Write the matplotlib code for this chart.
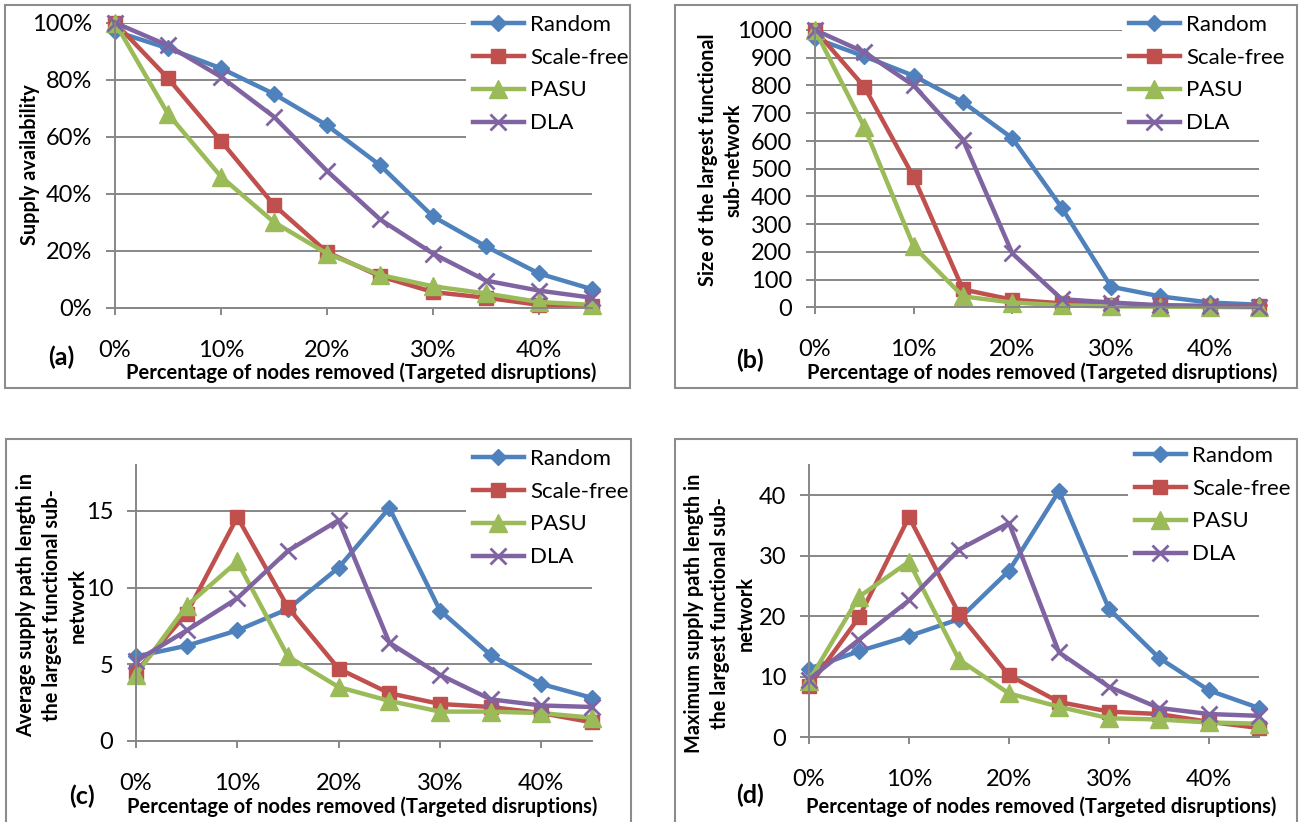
import matplotlib
matplotlib.use('Agg')
import matplotlib.pyplot as plt
from matplotlib.patches import Rectangle
from matplotlib.ticker import FuncFormatter

plt.rcParams['font.family'] = ['Lato', 'DejaVu Sans']

# percentage of nodes removed
removed = [0, 5, 10, 15, 20, 25, 30, 35, 40, 45]
series = ['Random', 'Scale-free', 'PASU', 'DLA']

# (a) supply availability, %
avail_random = [97, 91, 84, 75, 64, 50, 32, 21.5, 12, 6.5]
avail_scale = [100, 80.5, 58.5, 36, 19.5, 11, 5.5, 3.5, 1, 0.5]
avail_pasu = [100, 68, 46, 30, 19, 11.5, 7.5, 5, 2, 1]
avail_dla = [100, 92, 81, 67, 48, 31, 19, 9.5, 6, 3.5]

# (b) size of the largest functional sub-network
size_random = [970, 905, 835, 740, 610, 360, 75, 40, 18, 10]
size_scale = [1000, 795, 470, 65, 28, 15, 10, 8, 5, 5]
size_pasu = [1000, 650, 220, 40, 18, 8, 4, 3, 2, 1]
size_dla = [1000, 920, 800, 605, 195, 30, 18, 8, 5, 3]

# (c) average supply path length
avg_random = [5.5, 6.2, 7.2, 8.6, 11.3, 15.2, 8.5, 5.6, 3.7, 2.8]
avg_scale = [4.5, 8.3, 14.6, 8.7, 4.7, 3.1, 2.4, 2.2, 1.8, 1.2]
avg_pasu = [4.3, 8.8, 11.7, 5.5, 3.5, 2.6, 1.9, 1.9, 1.8, 1.5]
avg_dla = [5.2, 7.2, 9.3, 12.4, 14.4, 6.4, 4.3, 2.7, 2.3, 2.2]

# (d) maximum supply path length
max_random = [11.3, 14.2, 16.7, 19.5, 27.5, 40.7, 21.2, 13.1, 7.7, 4.8]
max_scale = [8.4, 19.8, 36.4, 20.4, 10.2, 5.8, 4.2, 3.8, 2.5, 1.5]
max_pasu = [9.3, 23.2, 29, 12.8, 7.2, 5, 3.1, 2.9, 2.4, 2.2]
max_dla = [9.5, 16.1, 22.6, 31, 35.4, 14, 8.3, 4.8, 3.8, 3.5]

colors = ['#4F81BD', '#C0504D', '#9BBB59', '#8064A2']
markers = [('D', 8), ('s', 10.5), ('^', 12.5), ('x', 11.5)]
grey = '#878787'

W, H = 1302, 822
fig = plt.figure(figsize=(W / 100, H / 100), dpi=100)


def fx(x):
    return x / W


def fy(y):
    return 1 - y / H


def box(l, t, r, b):
    fig.patches.append(Rectangle((fx(l), fy(b)), fx(r) - fx(l), fy(t) - fy(b),
                                 transform=fig.transFigure, fill=False,
                                 edgecolor='#8c8c8c', linewidth=1.5, zorder=5))


def panel(l, r, t, b, data, ymax, yticks, yfmt, leg_xy, letter_xy, title_xy,
          ylabel, ylabel_xy, letter):
    ax = fig.add_axes([fx(l), fy(b), fx(r) - fx(l), fy(t) - fy(b)])
    for vals, name, c, (m, ms) in zip(data, series, colors, markers):
        ax.plot(removed, vals, color=c, lw=3.2, marker=m, markersize=ms,
                markeredgecolor=c, markeredgewidth=2 if m == 'x' else 1,
                label=name, clip_on=False)
    ax.set_xlim(0, 45)
    ax.set_ylim(0, ymax)
    ax.set_xticks([0, 10, 20, 30, 40])
    ax.set_xticklabels(['0%', '10%', '20%', '30%', '40%'])
    ax.set_yticks(yticks)
    ax.yaxis.set_major_formatter(FuncFormatter(yfmt))
    ax.grid(axis='y', color=grey, lw=1.4)
    ax.set_axisbelow(True)
    for s in ['top', 'right']:
        ax.spines[s].set_visible(False)
    for s in ['left', 'bottom']:
        ax.spines[s].set_color(grey)
        ax.spines[s].set_linewidth(1.4)
    ax.tick_params(axis='x', length=5, width=1.4, color=grey, pad=18,
                   labelsize=17)
    ax.tick_params(axis='y', length=6.5, width=1.4, color=grey, pad=10,
                   labelsize=17)
    ax.legend(loc='upper left', bbox_to_anchor=(fx(leg_xy[0]), fy(leg_xy[1])),
              bbox_transform=fig.transFigure, frameon=True, fancybox=False,
              edgecolor='none', facecolor='white', framealpha=1,
              fontsize=16, handlelength=2.3, handletextpad=0.3,
              labelspacing=0.58, borderpad=0.3, borderaxespad=0,
              numpoints=1)
    fig.text(fx(letter_xy[0]), fy(letter_xy[1]), letter, fontsize=18,
             fontweight='bold', ha='center', va='center')
    fig.text(fx(title_xy[0]), fy(title_xy[1]),
             'Percentage of nodes removed (Targeted disruptions)',
             fontsize=14.5, fontweight='bold', ha='center', va='center')
    fig.text(fx(ylabel_xy[0]), fy(ylabel_xy[1]), ylabel, fontsize=14.3,
             fontweight='bold', ha='center', va='center', rotation=90,
             multialignment='center', linespacing=1.38)
    return ax


box(5, 5, 630, 388)
box(675, 5, 1297, 388)
box(6, 439, 631, 830)
box(675, 439, 1297, 830)

panel(115, 592, 22.7, 307.7,
      [avail_random, avail_scale, avail_pasu, avail_dla],
      100, [0, 20, 40, 60, 80, 100], lambda v, p: '%d%%' % v,
      (466, 8), (61, 357), (361, 373),
      'Supply availability', (30, 165), '(a)')

panel(815, 1259, 30, 307.5,
      [size_random, size_scale, size_pasu, size_dla],
      1000, list(range(0, 1001, 100)), lambda v, p: '%d' % v,
      (1122, 8), (750, 360), (1042, 373),
      'Size of the largest functional\nsub-network', (721, 160), '(b)')

panel(136, 592, 465, 740.7,
      [avg_random, avg_scale, avg_pasu, avg_dla],
      18, [0, 5, 10, 15], lambda v, p: '%d' % v,
      (466, 442), (82, 796), (362, 807),
      'Average supply path length in\nthe largest functional sub-\nnetwork',
      (52, 605), '(c)')

panel(809, 1259, 465, 737,
      [max_random, max_scale, max_pasu, max_dla],
      45, [0, 10, 20, 30, 40], lambda v, p: '%d' % v,
      (1128, 439), (750, 795), (1041, 807),
      'Maximum supply path length in\nthe largest functional sub-\nnetwork',
      (720, 613), '(d)')

fig.savefig('out.png', dpi=100)
